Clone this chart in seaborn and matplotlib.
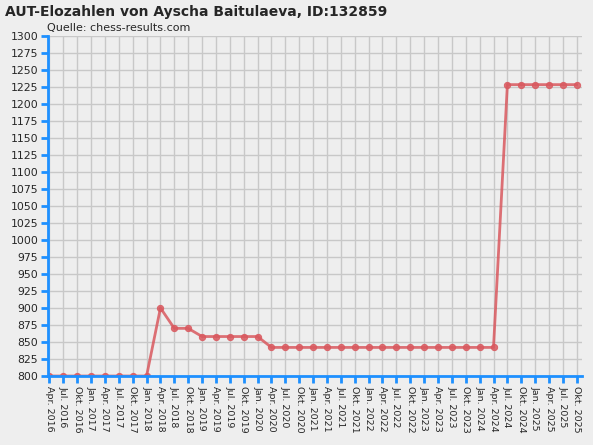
import matplotlib
matplotlib.use("Agg")
import matplotlib.pyplot as plt
import seaborn as sns
import pandas as pd

# Quartale Apr. 2016 .. Okt. 2025
quarters = ["Jan.", "Apr.", "Jul.", "Okt."]
labels = [f"{q} {y}" for y in range(2016, 2026) for q in quarters][1:]
elo = [800] * 8 + [900, 870, 870] + [858] * 5 + [842] * 17 + [1228] * 6

df = pd.DataFrame({"idx": range(len(labels)), "elo": elo})

sns.set_style("white")
plt.rcParams['font.family'] = ['DejaVu Sans']
fig = plt.figure(figsize=(5.93, 4.45), dpi=100, facecolor="#eeeeee")
ax = fig.add_axes([0.081, 0.155, 0.901, 0.765])
ax.set_facecolor("#eeeeee")

sns.lineplot(data=df, x="idx", y="elo", ax=ax, color="#d9595f", lw=2, alpha=0.85,
             marker="o", markersize=4.5, markeredgecolor="#d9595f")

ax.set_xlim(-0.1, len(labels) - 0.6)
ax.set_ylim(800, 1300)
ax.set_yticks(range(800, 1301, 25))
ax.set_xticks(range(len(labels)))
ax.set_xticklabels(labels, rotation=-90, fontsize=6.8)
ax.tick_params(axis="y", left=True, labelsize=7.8, length=5, color="#1e90ff", width=2, pad=2)
ax.tick_params(axis="x", bottom=True, length=5, color="#1e90ff", width=2, pad=2)
ax.grid(True, color="#c8c8c8", lw=1)
ax.set_axisbelow(True)
for s in ["top", "right"]:
    ax.spines[s].set_visible(False)
for s in ["left", "bottom"]:
    ax.spines[s].set_color("#1e90ff")
    ax.spines[s].set_linewidth(2)
ax.set_xlabel("")
ax.set_ylabel("")

fig.text(0.008, 0.965, "AUT-Elozahlen von Ayscha Baitulaeva, ID:132859",
         fontsize=10, fontweight="bold")
fig.text(0.079, 0.93, "Quelle: chess-results.com", fontsize=8)

fig.savefig("out.png", dpi=100, facecolor=fig.get_facecolor())
